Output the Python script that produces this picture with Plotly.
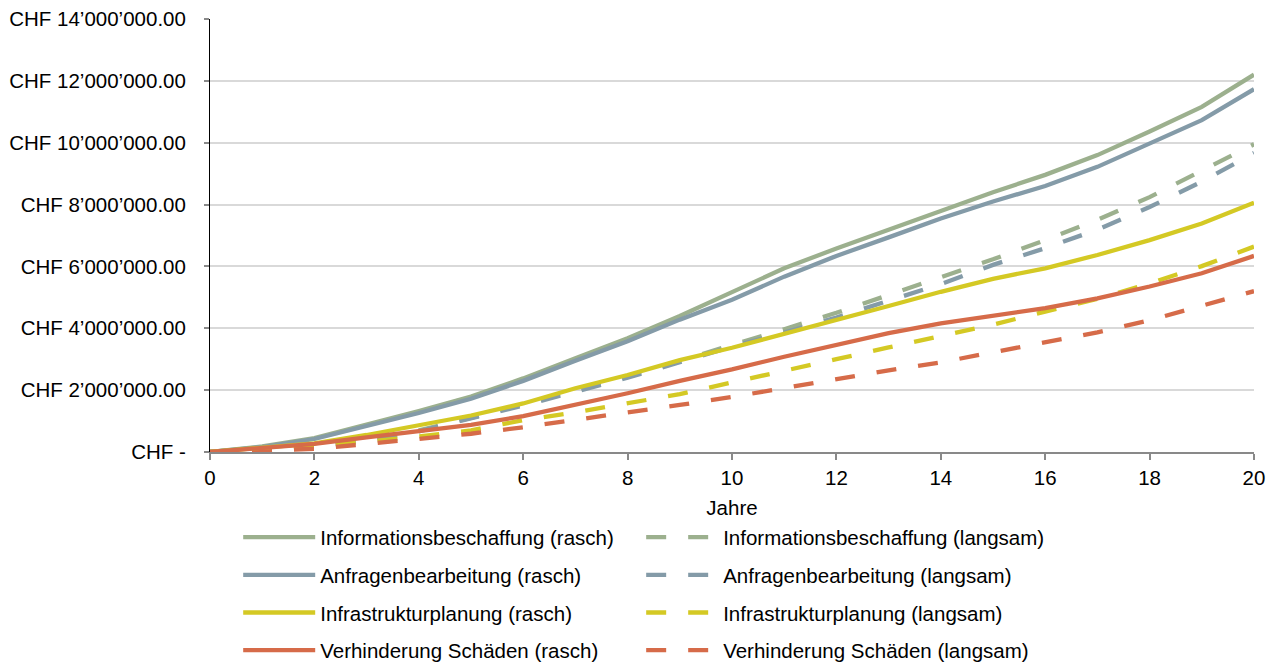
import plotly.graph_objects as go

# Jahre seit Einführung
jahre = list(range(0, 21))

# Kumulierter Nutzen in CHF, rasche Umsetzung
info_rasch = [0, 180000, 450000, 880000, 1320000, 1790000, 2380000, 3030000, 3680000, 4400000,
              5170000, 5940000, 6580000, 7180000, 7770000, 8400000, 8960000, 9600000, 10360000,
              11160000, 12200000]
anfr_rasch = [0, 160000, 420000, 840000, 1260000, 1720000, 2300000, 2950000, 3580000, 4280000,
              4920000, 5670000, 6340000, 6940000, 7550000, 8100000, 8600000, 9220000, 9980000,
              10730000, 11730000]
infra_rasch = [0, 140000, 280000, 550000, 870000, 1180000, 1570000, 2060000, 2490000, 2970000,
               3370000, 3810000, 4270000, 4720000, 5180000, 5600000, 5940000, 6370000, 6850000,
               7390000, 8060000]
schaden_rasch = [0, 120000, 260000, 470000, 660000, 880000, 1160000, 1520000, 1900000, 2300000,
                 2670000, 3080000, 3460000, 3840000, 4160000, 4420000, 4650000, 4970000, 5350000,
                 5780000, 6340000]

# Kumulierter Nutzen in CHF, langsame Umsetzung
info_langsam = [0, 70000, 180000, 380000, 700000, 1100000, 1550000, 2000000, 2450000, 2950000,
                3450000, 3970000, 4500000, 5080000, 5650000, 6230000, 6850000, 7510000, 8240000,
                9080000, 9950000]
anfr_langsam = [0, 60000, 170000, 360000, 670000, 1070000, 1500000, 1950000, 2400000, 2900000,
                3410000, 3860000, 4350000, 4890000, 5430000, 6050000, 6590000, 7190000, 7920000,
                8740000, 9670000]
infra_langsam = [0, 60000, 170000, 320000, 500000, 700000, 1030000, 1280000, 1570000, 1870000,
                 2250000, 2640000, 3000000, 3380000, 3760000, 4120000, 4540000, 4950000, 5450000,
                 6010000, 6640000]
schaden_langsam = [0, 40000, 100000, 260000, 420000, 590000, 800000, 1030000, 1270000, 1520000,
                   1780000, 2070000, 2350000, 2640000, 2900000, 3220000, 3550000, 3870000, 4260000,
                   4730000, 5200000]

y_tickvals = [0, 2000000, 4000000, 6000000, 8000000, 10000000, 12000000, 14000000]
y_ticktext = ["CHF -", "CHF 2’000’000.00", "CHF 4’000’000.00", "CHF 6’000’000.00",
              "CHF 8’000’000.00", "CHF 10’000’000.00", "CHF 12’000’000.00", "CHF 14’000’000.00"]

serien = [
    ("Informationsbeschaffung", info_rasch, info_langsam, "#9CB08E"),
    ("Anfragenbearbeitung", anfr_rasch, anfr_langsam, "#849BA8"),
    ("Infrastrukturplanung", infra_rasch, infra_langsam, "#D4C924"),
    ("Verhinderung Schäden", schaden_rasch, schaden_langsam, "#D66B49"),
]

FONT = "Liberation Sans, Arial, sans-serif"
FS = 20.5
fig = go.Figure()

# langsam (gestrichelt) zuerst, rasch (durchgezogen) darüber
for i, (name, rasch, langsam, farbe) in enumerate(serien):
    fig.add_trace(go.Scatter(
        x=jahre, y=langsam, mode="lines", name=f"{name} (langsam)",
        line=dict(color=farbe, width=4.3, dash="20px,22px"),
        legend="legend2", legendgroup=f"l{i}", legendrank=i,
    ))
for i, (name, rasch, langsam, farbe) in enumerate(serien):
    fig.add_trace(go.Scatter(
        x=jahre, y=rasch, mode="lines", name=f"{name} (rasch)",
        line=dict(color=farbe, width=4.3),
        legend="legend", legendgroup=f"r{i}", legendrank=i,
    ))

legend_common = dict(
    orientation="v", yanchor="top", xanchor="left",
    font=dict(family=FONT, size=FS, color="#000000"),
    itemwidth=72, tracegroupgap=8, bgcolor="rgba(0,0,0,0)",
    traceorder="grouped",
)

fig.update_layout(
    width=1279, height=664,
    margin=dict(l=210, r=25, t=19, b=212, autoexpand=False),
    paper_bgcolor="white", plot_bgcolor="white",
    font=dict(family=FONT, size=FS, color="#000000"),
    showlegend=True,
    legend=dict(x=0.027, y=-0.151, **legend_common),
    legend2=dict(x=0.413, y=-0.151, **legend_common),
    xaxis=dict(
        range=[0, 20], tickvals=list(range(0, 21, 2)),
        showgrid=False, zeroline=False,
        showline=True, linecolor="#898989", linewidth=2,
        ticks="outside", ticklen=6, tickcolor="#898989", tickwidth=1.5,
        ticklabelstandoff=0,
        tickfont=dict(family=FONT, size=FS, color="#000000"),
        title=dict(text="Jahre", font=dict(family=FONT, size=FS, color="#000000"), standoff=13),
    ),
    yaxis=dict(
        range=[0, 14000000], tickvals=y_tickvals, ticktext=y_ticktext,
        showgrid=True, gridcolor="#D9D9D9", gridwidth=1.5, zeroline=False,
        showline=True, linecolor="#000000", linewidth=1,
        ticks="outside", ticklen=5, tickcolor="#898989", tickwidth=1.5,
        ticklabelstandoff=14,
        tickfont=dict(family=FONT, size=FS, color="#000000"),
    ),
)

fig.write_html("out.html")
